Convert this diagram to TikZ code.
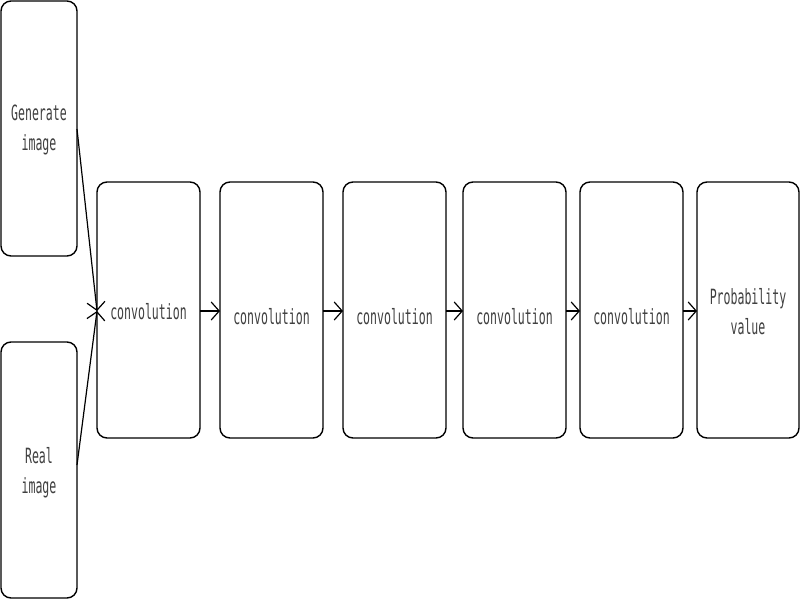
\documentclass[tikz,border=0pt]{standalone}
\usepackage{fontspec}
\newfontfamily\boxfont[FakeStretch=0.55]{DejaVu Sans Mono}
\usetikzlibrary{arrows.meta}
\begin{document}
\begin{tikzpicture}[x=1pt,y=-1pt,
  blk/.style={draw=black,line width=1.4pt,rounded corners=10pt,fill=white},
  lbl/.style={font=\boxfont\fontsize{21}{30}\selectfont,text=black!75,align=center},
  arr/.style={-{Straight Barb[length=8pt,width=18pt,line width=1.2pt]},line width=1.2pt}]
\useasboundingbox (0,0) rectangle (800,600);
% boxes
\draw[blk] (1,1) rectangle (77,256);
\draw[blk] (1,342) rectangle (77,598);
\draw[blk] (97,182) rectangle (200,438);
\draw[blk] (220,182) rectangle (323,438);
\draw[blk] (343,182) rectangle (446,438);
\draw[blk] (463,182) rectangle (566,438);
\draw[blk] (580,182) rectangle (683,438);
\draw[blk] (697,182) rectangle (799,438);
% named anchors
\coordinate (gen) at (77,129);
\coordinate (real) at (77,465);
\coordinate (c1in) at (97,311);
\coordinate (c1out) at (200,311);
\coordinate (c2in) at (220,311);
\coordinate (c2out) at (323,311);
\coordinate (c3in) at (343,311);
\coordinate (c3out) at (446,311);
\coordinate (c4in) at (463,311);
\coordinate (c4out) at (566,311);
\coordinate (c5in) at (580,311);
\coordinate (c5out) at (683,311);
\coordinate (pin) at (697,311);
% labels
\node[lbl] (tg) at (39,130) {Generate\\image};
\node[lbl] (tr) at (39,473) {Real\\image};
\node[lbl] (t1) at (148.5,312) {convolution};
\node[lbl] (t2) at (271.5,317) {convolution};
\node[lbl] (t3) at (394.5,317) {convolution};
\node[lbl] (t4) at (514.5,317) {convolution};
\node[lbl] (t5) at (631.5,317) {convolution};
\node[lbl] (tp) at (748,312) {Probability\\value};
% arrows
\draw[arr] (gen) -- (c1in);
\draw[arr] (real) -- (c1in);
\draw[arr] (c1out) -- (c2in);
\draw[arr] (c2out) -- (c3in);
\draw[arr] (c3out) -- (c4in);
\draw[arr] (c4out) -- (c5in);
\draw[arr] (c5out) -- (pin);
\end{tikzpicture}
\end{document}
